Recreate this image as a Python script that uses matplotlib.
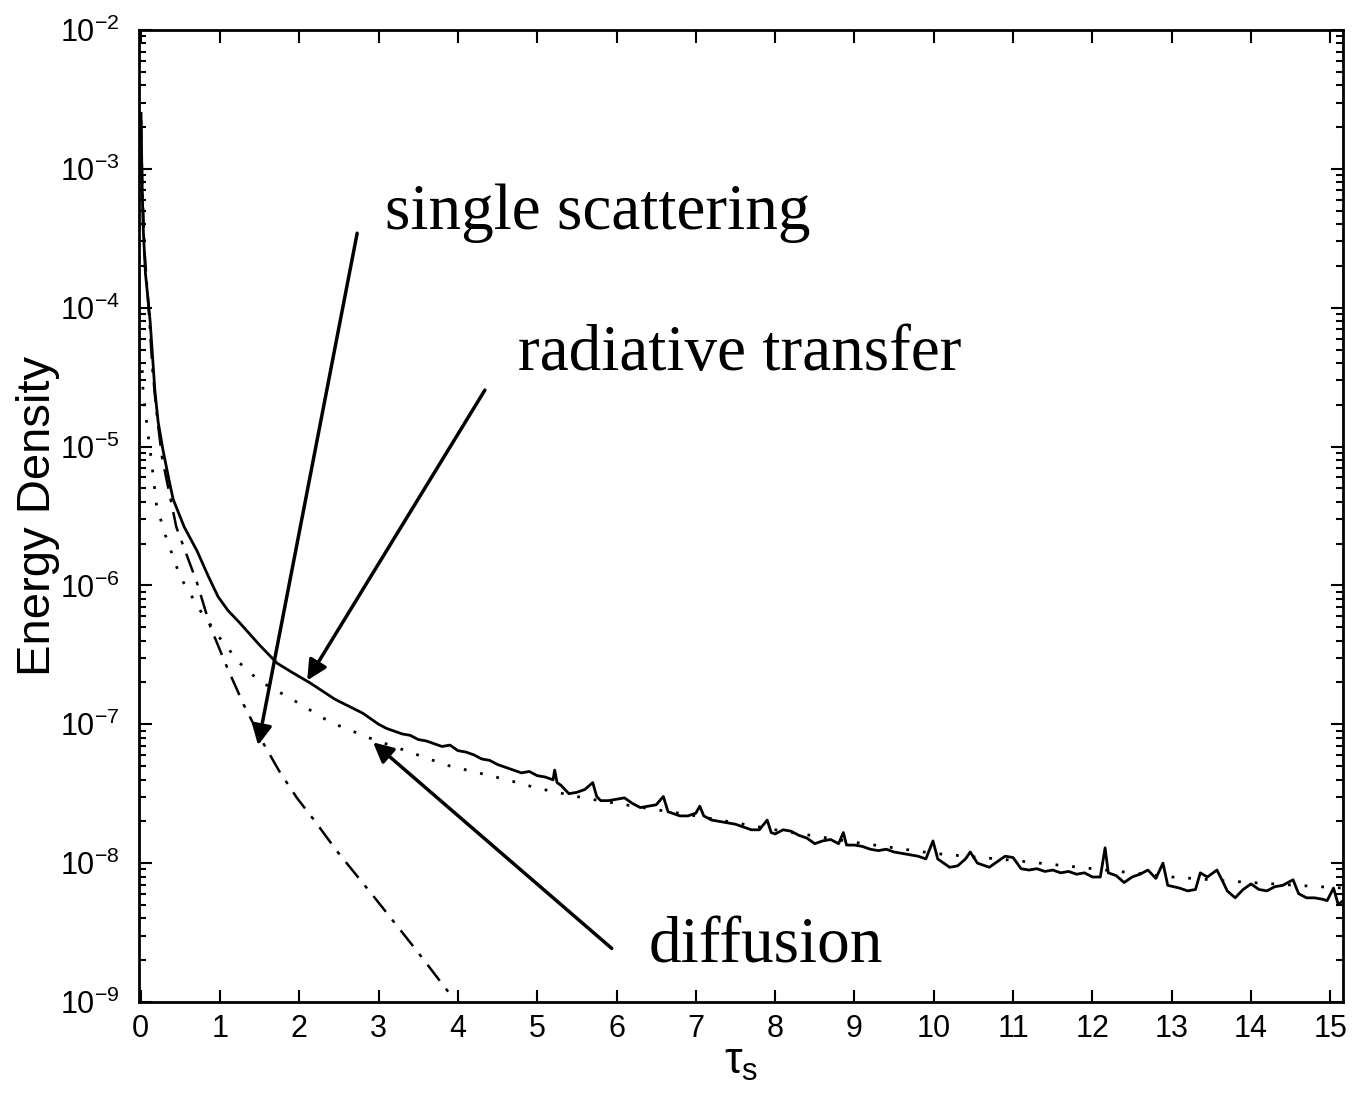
import numpy as np
import matplotlib
matplotlib.use('Agg')
import matplotlib.pyplot as plt
from matplotlib.ticker import LogLocator, NullFormatter

plt.rcParams['font.family'] = ['Liberation Sans', 'DejaVu Sans']
plt.rcParams['mathtext.fontset'] = 'custom'
plt.rcParams['mathtext.rm'] = 'Liberation Sans'
plt.rcParams['mathtext.it'] = 'Liberation Sans'
plt.rcParams['mathtext.bf'] = 'Liberation Sans:bold'

# radiative transfer (Monte Carlo, noisy) -- tau_s and log10(energy density)
rt_tau = [0.005, 0.015, 0.03, 0.06, 0.09, 0.12, 0.15, 0.18, 0.22, 0.28, 0.35, 0.41,
          0.55, 0.71, 0.85, 0.975, 1.1, 1.25, 1.5, 1.72, 1.92, 2.13, 2.45, 2.8,
          3.0, 3.1, 3.2, 3.3, 3.4, 3.5, 3.6, 3.7, 3.8, 3.9, 4.0, 4.1, 4.2, 4.3,
          4.4, 4.5, 4.6, 4.7, 4.8, 4.9, 5.0, 5.1, 5.2, 5.22, 5.25, 5.3, 5.4, 5.5,
          5.6, 5.7, 5.75, 5.8, 5.9, 6.0, 6.1, 6.2, 6.3, 6.4, 6.5, 6.59, 6.65, 6.8,
          6.9, 7.0, 7.05, 7.1, 7.2, 7.3, 7.4, 7.5, 7.6, 7.7, 7.8, 7.9, 7.95, 8.0,
          8.1, 8.2, 8.3, 8.4, 8.5, 8.6, 8.7, 8.8, 8.86, 8.9, 9.0, 9.1, 9.2, 9.3,
          9.4, 9.5, 9.6, 9.7, 9.8, 9.9, 9.99, 10.05, 10.2, 10.3, 10.4, 10.46,
          10.55, 10.7, 10.8, 10.9, 11.0, 11.1, 11.2, 11.3, 11.4, 11.5, 11.6, 11.7,
          11.8, 11.9, 12.0, 12.1, 12.16, 12.2, 12.3, 12.4, 12.5, 12.6, 12.7, 12.8,
          12.89, 12.95, 13.1, 13.2, 13.3, 13.36, 13.45, 13.57, 13.65, 13.7, 13.8,
          13.9, 14.0, 14.1, 14.2, 14.3, 14.4, 14.53, 14.6, 14.7, 14.8, 14.9,
          14.96, 15.04, 15.1, 15.16]
rt_log10 = [-2.6, -3.0, -3.4, -3.75, -3.92, -4.1, -4.35, -4.6, -4.82, -5.02, -5.22, -5.38,
            -5.58, -5.75, -5.93, -6.08, -6.18, -6.27, -6.43, -6.56, -6.63, -6.70, -6.82, -6.92,
            -7.00, -7.03, -7.05, -7.07, -7.08, -7.11, -7.12, -7.14, -7.16, -7.15, -7.19, -7.20,
            -7.22, -7.25, -7.26, -7.29, -7.31, -7.33, -7.35, -7.34, -7.37, -7.38, -7.40, -7.33,
            -7.42, -7.44, -7.50, -7.49, -7.47, -7.42, -7.52, -7.55, -7.55, -7.54, -7.53, -7.57,
            -7.60, -7.59, -7.58, -7.52, -7.63, -7.66, -7.66, -7.64, -7.59, -7.66, -7.69, -7.70,
            -7.71, -7.72, -7.74, -7.76, -7.76, -7.69, -7.78, -7.79, -7.76, -7.77, -7.80, -7.82,
            -7.86, -7.84, -7.83, -7.86, -7.78, -7.87, -7.87, -7.88, -7.90, -7.91, -7.90, -7.92,
            -7.93, -7.94, -7.95, -7.97, -7.84, -7.97, -8.03, -8.02, -7.97, -7.92, -8.00, -8.03,
            -7.99, -7.95, -7.96, -8.04, -8.05, -8.04, -8.06, -8.05, -8.07, -8.06, -8.08, -8.07,
            -8.10, -8.10, -7.89, -8.07, -8.09, -8.14, -8.10, -8.08, -8.05, -8.11, -8.00, -8.16,
            -8.18, -8.20, -8.19, -8.07, -8.10, -8.05, -8.14, -8.20, -8.25, -8.19, -8.15, -8.19,
            -8.20, -8.17, -8.16, -8.12, -8.22, -8.25, -8.25, -8.26, -8.27, -8.18, -8.30, -8.27]

# diffusion approximation
diff_tau = [0.02, 0.03, 0.06, 0.1, 0.14, 0.2, 0.3, 0.5, 0.75, 1.0, 1.25, 1.5, 1.88,
            2.39, 2.89, 3.44, 3.86, 4.28, 4.62, 5.0, 5.58, 6.0, 7.0, 8.0, 9.0, 10.0,
            11.0, 12.0, 13.0, 14.0, 15.16]
diff_log10 = [-4.45, -4.6, -4.75, -4.94, -5.12, -5.42, -5.62, -5.94, -6.18, -6.38, -6.56,
              -6.69, -6.81, -6.985, -7.1, -7.21, -7.295, -7.353, -7.40, -7.46, -7.53, -7.57,
              -7.66, -7.76, -7.85, -7.93, -7.98, -8.04, -8.10, -8.14, -8.18]

# single scattering
ss_tau = [0.005, 0.02, 0.05, 0.1, 0.15, 0.2, 0.27, 0.45, 0.71, 0.88, 1.09, 1.3, 1.55,
          1.75, 1.97, 2.2, 2.47, 2.98, 3.48, 3.95]
ss_log10 = [-2.65, -3.1, -3.6, -4.0, -4.45, -4.75, -5.08, -5.58, -5.98, -6.30, -6.59,
            -6.86, -7.14, -7.34, -7.53, -7.70, -7.91, -8.27, -8.63, -8.98]

y_decades = [1e-9, 1e-8, 1e-7, 1e-6, 1e-5, 1e-4, 1e-3, 1e-2]
x_ticks = list(range(0, 16))

fig = plt.figure(figsize=(13.54, 11.03), dpi=100)
ax = fig.add_axes([0.1027, 0.0916, 0.8892, 0.8812])

ax.plot(rt_tau, 10 ** np.array(rt_log10), color='k', lw=2.0)
ax.plot(diff_tau, 10 ** np.array(diff_log10), color='k', lw=2.0, linestyle=(0, (1, 5)))
ax.plot(ss_tau, 10 ** np.array(ss_log10), color='k', lw=1.8, linestyle=(0, (8, 4, 1.5, 4)))

ax.set_yscale('log')
ax.set_xlim(-0.02, 15.16)
ax.set_ylim(1e-9, 1e-2)
ax.set_xticks(x_ticks)
ax.set_yticks(y_decades)
ax.yaxis.set_minor_locator(LogLocator(base=10, subs=np.arange(2, 10), numticks=10))
ax.yaxis.set_minor_formatter(NullFormatter())

ax.tick_params(which='both', direction='in', top=True, right=True, labelsize=22, width=1.5)
ax.tick_params(which='major', length=9)
ax.tick_params(which='minor', length=5)
ax.tick_params(axis='x', pad=9)
ax.tick_params(axis='y', pad=14)
for sp in ax.spines.values():
    sp.set_linewidth(2)

ax.set_ylabel('Energy Density', fontsize=34)
ax.yaxis.set_label_coords(-0.066, 0.5)
ax.set_xlabel(r'$\tau_\mathrm{s}$', fontsize=32, labelpad=-2)

serif = ['Liberation Serif', 'DejaVu Serif']
ax.text(3.08, 10 ** -3.43, 'single scattering', family=serif, fontsize=47, va='baseline')
ax.text(4.76, 10 ** -4.45, 'radiative transfer', family=serif, fontsize=47, va='baseline')
ax.text(6.40, 10 ** -8.715, 'diffusion', family=serif, fontsize=47, va='baseline')

arrow = dict(arrowstyle='-|>', lw=2.5, color='k', mutation_scale=30, shrinkA=0, shrinkB=0)
ax.annotate('', xy=(1.48, 7.06e-8), xytext=(2.73, 3.44e-4), arrowprops=arrow)
ax.annotate('', xy=(2.10, 2.07e-7), xytext=(4.34, 2.55e-5), arrowprops=arrow)
ax.annotate('', xy=(2.93, 7.41e-8), xytext=(5.94, 2.43e-9), arrowprops=arrow)

fig.savefig('out.png', dpi=100)
